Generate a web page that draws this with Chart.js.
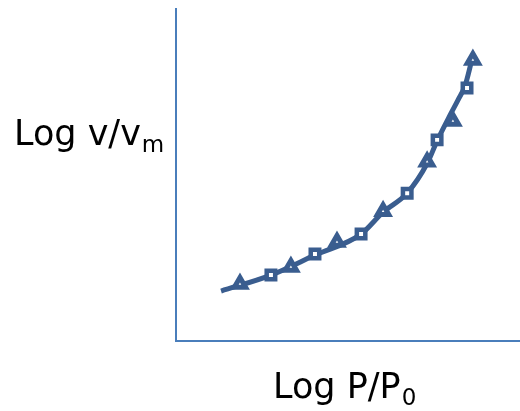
<!DOCTYPE html>
<html>
<head>
<meta charset="utf-8">
<script src="https://cdn.jsdelivr.net/npm/chart.js@4/dist/chart.umd.min.js"></script>
<style>
  html, body { margin: 0; padding: 0; background: #fff; }
  #wrap { width: 520px; height: 411px; position: relative; }
</style>
</head>
<body>
<div id="wrap"><canvas id="c"></canvas></div>
<script>
// 곡선(추세선) 좌표 - 임의 단위 0~10
const curveX = [1.31, 2.76, 4.04, 5.38, 6.02, 6.72, 7.30, 7.59, 7.94, 8.20, 8.40, 8.60];
const curveY = [1.50, 1.98, 2.58, 3.21, 3.87, 4.44, 5.33, 6.01, 6.73, 7.24, 7.66, 8.44];

// 삼각형 마커
const triX = [1.86, 3.34, 4.68, 6.02, 7.30, 8.05, 8.63];
const triY = [1.71, 2.22, 2.97, 3.90, 5.38, 6.61, 8.44];

// 사각형 마커
const sqX = [2.76, 4.04, 5.38, 6.72, 7.59, 8.46];
const sqY = [1.98, 2.61, 3.21, 4.44, 6.04, 7.60];

const xLabel = ['Log P/P', '0'];
const yLabel = ['Log v/v', 'm'];

const BLUE = '#3a5d8f';
const AXIS = '#4a7ebb';

const toPts = (xs, ys) => xs.map((x, i) => ({ x, y: ys[i] }));

// 축선과 라벨(아래첨자 포함) 그리기
const axisPlugin = {
  id: 'axisLines',
  beforeDatasetsDraw(chart) {
    const { ctx, chartArea: a } = chart;
    ctx.save();
    ctx.fillStyle = AXIS;
    ctx.fillRect(a.left - 1, 8, 2, a.bottom - 8 + 1);
    ctx.fillRect(a.left - 1, a.bottom - 1, a.right - a.left + 1, 2);
    ctx.restore();
  },
  afterDraw(chart) {
    const ctx = chart.ctx;
    ctx.save();
    ctx.fillStyle = '#000';
    ctx.textBaseline = 'alphabetic';
    ctx.textAlign = 'left';
    const drawSub = (parts, x, y) => {
      ctx.font = '35px "DejaVu Sans", sans-serif';
      ctx.fillText(parts[0], x, y);
      const w = ctx.measureText(parts[0]).width;
      ctx.font = '23px "DejaVu Sans", sans-serif';
      ctx.fillText(parts[1], x + w + 1, y + 7);
    };
    drawSub(yLabel, 14, 145);
    drawSub(xLabel, 273, 398);
    ctx.restore();
  }
};

new Chart(document.getElementById('c'), {
  type: 'scatter',
  data: {
    datasets: [
      {
        label: 'curve',
        data: toPts(curveX, curveY),
        order: 2,  // 마커 아래에 그리기
        showLine: true,
        borderColor: BLUE,
        borderWidth: 5,
        pointRadius: 0,
        cubicInterpolationMode: 'monotone',
        borderCapStyle: 'butt'
      },
      {
        label: 'tri',
        data: toPts(triX, triY),
        order: 1,
        pointStyle: 'triangle',
        pointRadius: 6.5,
        pointBorderWidth: 5,
        pointBorderColor: BLUE,
        pointBackgroundColor: '#fff'
      },
      {
        label: 'sq',
        data: toPts(sqX, sqY),
        order: 0,
        pointStyle: 'rect',
        pointRadius: 6,
        pointBorderWidth: 4.5,
        pointBorderColor: BLUE,
        pointBackgroundColor: '#fff'
      }
    ]
  },
  plugins: [axisPlugin],
  options: {
    responsive: true,
    maintainAspectRatio: false,
    animation: false,
    layout: { autoPadding: false, padding: { left: 176, top: 8, right: 0, bottom: 70 } },
    plugins: { legend: { display: false }, tooltip: { enabled: false } },
    scales: {
      x: { type: 'linear', min: 0, max: 10, display: false },
      y: { type: 'linear', min: 0, max: 10, display: false }
    }
  }
});
</script>
</body>
</html>
